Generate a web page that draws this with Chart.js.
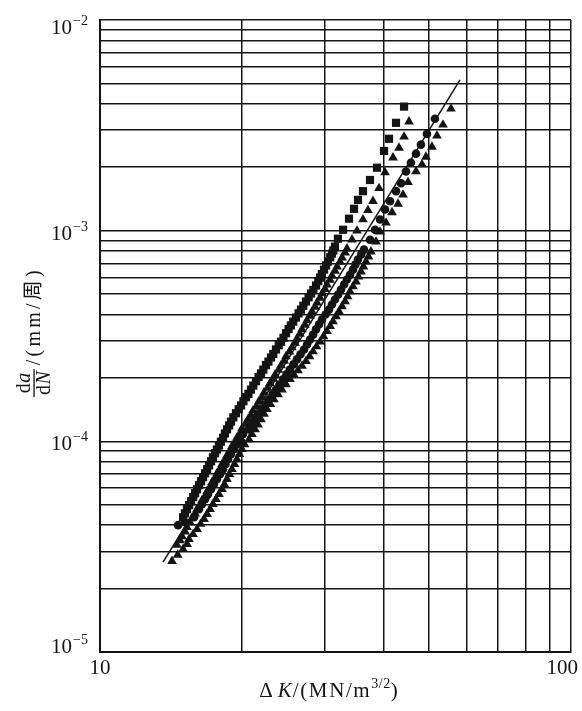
<!DOCTYPE html>
<html><head><meta charset="utf-8">
<script src="https://cdn.jsdelivr.net/npm/chart.js@4/dist/chart.umd.min.js"></script>
<style>html,body{margin:0;padding:0;background:#fff;}canvas{display:block;}</style>
</head><body>
<canvas id="c" width="582" height="711"></canvas>
<script>
// ---- axis structure ----
const xGrid = [10,20,30,40,50,60,70,80,90,100];
const yGrid = [1e-5,2e-5,3e-5,4e-5,5e-5,6e-5,7e-5,8e-5,9e-5,
               1e-4,2e-4,3e-4,4e-4,5e-4,6e-4,7e-4,8e-4,9e-4,
               1e-3,2e-3,3e-3,4e-3,5e-3,6e-3,7e-3,8e-3,9e-3,1e-2];
const xLabelVals = [10,100];
const xLabelText = ['10','100'];
const yLabelVals = [1e-5,1e-4,1e-3,1e-2];
const yLabelExp  = ['\u22125','\u22124','\u22123','\u22122'];

// ---- series: squares ----
const sqK = [15.01,15.30,15.61,15.92,16.23,16.55,16.88,17.21,17.55,17.89,18.25,18.61,18.97,19.44,19.93,20.42,20.92,21.44,21.97,22.51,23.07,23.64,24.23,24.83,25.43,26.06,26.71,27.37,28.06,28.75,29.32,29.90,30.48,31.08,31.54,32.00,32.81,33.78,34.62,35.30,36.17,37.43,38.73,40.09,41.08,42.51,44.21,
  31.28,30.82,30.20,29.58,29.07,28.38,27.73,27.02,26.40,25.72,25.14,24.52,23.96,23.33,22.78,22.22,21.71,21.16,20.66,20.16,19.70,19.19,18.80,18.42,18.06,17.71,17.37,17.04,16.71,16.39,16.07,15.77,15.46,15.15];
const sqR = [4.36e-5,4.76e-5,5.20e-5,5.67e-5,6.19e-5,6.76e-5,7.37e-5,8.04e-5,8.78e-5,9.55e-5,1.04e-4,1.14e-4,1.24e-4,1.36e-4,1.48e-4,1.62e-4,1.76e-4,1.93e-4,2.10e-4,2.30e-4,2.50e-4,2.73e-4,2.97e-4,3.26e-4,3.55e-4,3.87e-4,4.22e-4,4.61e-4,5.03e-4,5.49e-4,5.99e-4,6.53e-4,7.13e-4,7.78e-4,8.40e-4,9.16e-4,1.01e-3,1.14e-3,1.27e-3,1.40e-3,1.54e-3,1.74e-3,1.99e-3,2.39e-3,2.73e-3,3.25e-3,3.88e-3,
  8.05e-4,7.48e-4,6.84e-4,6.22e-4,5.76e-4,5.23e-4,4.83e-4,4.40e-4,4.05e-4,3.70e-4,3.41e-4,3.10e-4,2.86e-4,2.60e-4,2.39e-4,2.19e-4,2.02e-4,1.84e-4,1.68e-4,1.55e-4,1.42e-4,1.30e-4,1.19e-4,1.09e-4,9.96e-5,9.14e-5,8.40e-5,7.69e-5,7.05e-5,6.47e-5,5.92e-5,5.44e-5,4.98e-5,4.55e-5];

// ---- series: triangles (left group) ----
const triAK = [45.29,44.21,43.14,41.89,40.28,39.12,37.98,37.06,36.17,35.13,34.28,33.45,32.65,31.86,31.08,30.34,29.61,28.89,28.19,27.51,26.84,26.19,25.56,24.83,24.23,23.53,22.96,22.29,21.75,21.13,20.62,20.02,19.54,19.07,18.61,18.16,17.73,17.30,16.88,16.47,16.07,15.68,15.30,14.93,14.57,
  33.15,32.35,31.55,30.80,30.05,29.32,28.62,27.92,27.24,26.58,25.95,25.25,24.60,23.93,23.32,22.68,22.08,21.49,20.92,20.37,19.82,19.35,18.88,18.43,17.99,17.56,17.14,16.73,16.32,15.92,15.54,15.16,14.79];
const triAR = [3.29e-3,2.79e-3,2.47e-3,2.22e-3,1.89e-3,1.59e-3,1.38e-3,1.25e-3,1.13e-3,9.99e-4,9.06e-4,8.22e-4,7.45e-4,6.75e-4,6.12e-4,5.54e-4,5.03e-4,4.55e-4,4.13e-4,3.75e-4,3.40e-4,3.07e-4,2.79e-4,2.53e-4,2.29e-4,2.07e-4,1.89e-4,1.70e-4,1.55e-4,1.40e-4,1.27e-4,1.15e-4,1.04e-4,9.48e-5,8.59e-5,7.78e-5,7.06e-5,6.40e-5,5.79e-5,5.25e-5,4.76e-5,4.32e-5,3.91e-5,3.54e-5,3.22e-5,
  7.85e-4,7.10e-4,6.43e-4,5.83e-4,5.28e-4,4.79e-4,4.34e-4,3.94e-4,3.57e-4,3.23e-4,2.93e-4,2.66e-4,2.41e-4,2.18e-4,1.98e-4,1.79e-4,1.62e-4,1.47e-4,1.33e-4,1.21e-4,1.09e-4,9.93e-5,9.02e-5,8.18e-5,7.41e-5,6.72e-5,6.09e-5,5.51e-5,5.00e-5,4.54e-5,4.11e-5,3.72e-5,3.38e-5];

// ---- series: circles ----
const circK = [51.42,49.45,48.02,46.87,45.73,44.64,43.56,42.51,41.28,40.28,39.31,38.36,37.43,36.35,35.29,34.45,33.45,32.49,31.54,30.63,29.61,28.75,27.92,27.11,26.19,25.31,24.47,23.64,22.85,22.07,21.34,20.72,19.82,19.25,18.69,18.24,17.71,17.21,16.71,16.22,15.84,15.16,14.65,
  35.85,34.85,33.95,32.98,32.02,31.08,30.12,29.18,28.34,27.52,26.65,25.75,24.89,24.05,23.25,22.46,21.70,21.03,20.11,19.53,18.96,18.46,17.98,17.45,16.95,16.46];
const circR = [3.40e-3,2.88e-3,2.56e-3,2.32e-3,2.10e-3,1.91e-3,1.68e-3,1.54e-3,1.38e-3,1.26e-3,1.13e-3,1.01e-3,9.06e-4,8.13e-4,7.29e-4,6.53e-4,5.86e-4,5.25e-4,4.71e-4,4.22e-4,3.79e-4,3.40e-4,3.04e-4,2.73e-4,2.45e-4,2.19e-4,1.97e-4,1.76e-4,1.58e-4,1.42e-4,1.27e-4,1.14e-4,1.02e-4,9.17e-5,8.22e-5,7.37e-5,6.61e-5,5.92e-5,5.31e-5,4.76e-5,4.36e-5,4.13e-5,4.00e-5,
  7.70e-4,6.90e-4,6.18e-4,5.55e-4,4.97e-4,4.46e-4,4.00e-4,3.59e-4,3.21e-4,2.88e-4,2.59e-4,2.32e-4,2.08e-4,1.86e-4,1.67e-4,1.50e-4,1.34e-4,1.20e-4,1.08e-4,9.67e-5,8.68e-5,7.78e-5,6.98e-5,6.25e-5,5.61e-5,5.03e-5];

// ---- series: triangles (right group) ----
const triBK = [55.62,53.49,51.93,50.67,49.21,48.26,46.87,45.08,43.99,42.93,41.68,40.48,39.31,38.55,37.61,36.70,35.81,34.96,33.95,33.13,32.17,31.24,30.34,29.32,28.33,27.37,26.32,25.31,24.35,23.41,22.62,21.97,21.34,20.72,20.02,19.53,19.06,18.60,18.16,17.63,17.13,16.63,16.07,15.45,15.01,14.22,
  37.15,36.25,35.38,34.45,33.55,32.65,31.70,30.80,29.82,28.82,27.85,26.85,25.80,24.83,23.88,23.00,22.30,21.65,21.02,20.27,19.77,19.30,18.83,18.37,17.89,17.37,16.88,16.35,15.76,15.31,14.62];
const triBR = [3.79e-3,3.18e-3,2.82e-3,2.50e-3,2.24e-3,2.06e-3,1.91e-3,1.70e-3,1.48e-3,1.34e-3,1.22e-3,1.09e-3,9.88e-4,8.86e-4,7.95e-4,7.13e-4,6.39e-4,5.73e-4,5.14e-4,4.61e-4,4.13e-4,3.71e-4,3.33e-4,2.97e-4,2.67e-4,2.40e-4,2.17e-4,1.97e-4,1.76e-4,1.58e-4,1.42e-4,1.27e-4,1.14e-4,1.02e-4,9.17e-5,8.22e-5,7.37e-5,6.61e-5,5.92e-5,5.31e-5,4.76e-5,4.27e-5,3.83e-5,3.43e-5,3.08e-5,2.70e-5,
  7.53e-4,6.75e-4,6.05e-4,5.43e-4,4.87e-4,4.37e-4,3.92e-4,3.52e-4,3.15e-4,2.82e-4,2.53e-4,2.28e-4,2.07e-4,1.86e-4,1.67e-4,1.50e-4,1.35e-4,1.20e-4,1.08e-4,9.67e-5,8.68e-5,7.78e-5,6.98e-5,6.25e-5,5.61e-5,5.03e-5,4.51e-5,4.05e-5,3.62e-5,3.25e-5,2.89e-5];

// ---- fitted line ----
const fitK = [13.61,58.13];
const fitR = [2.67e-5,5.20e-3];

const INK = '#141414';
const pts = (K,R) => K.map((k,i)=>({x:k,y:R[i]}));
const SERIF = '"Liberation Serif","DejaVu Serif","Noto Sans CJK SC",serif';

function drawRun(ctx, parts, x, y){
  for (const p of parts){
    ctx.font = p.font;
    for (const ch of p.t){
      ctx.fillText(ch, x, y + (p.dy||0));
      x += ctx.measureText(ch).width + (p.sp||0);
    }
  }
  return x;
}
function runWidth(ctx, parts){
  let w = 0;
  for (const p of parts){ ctx.font = p.font; for (const ch of p.t) w += ctx.measureText(ch).width + (p.sp||0); }
  return w;
}

const labelPlugin = {
  id: 'labels',
  afterDraw(chart){
    const {ctx} = chart;
    const xs = chart.scales.x, ys = chart.scales.y;
    ctx.save();
    ctx.fillStyle = INK;
    ctx.textBaseline = 'alphabetic';
    const n = yLabelVals.length;
    yLabelVals.forEach((v,i)=>{
      const py = ys.getPixelForValue(v);
      const base = py + (i===0 ? 1 : (i===n-1 ? 14 : 9));
      ctx.textAlign = 'right';
      ctx.font = '14px ' + SERIF;
      const ew = ctx.measureText(yLabelExp[i]).width;
      ctx.fillText(yLabelExp[i], 88, base - 9);
      ctx.font = '21px ' + SERIF;
      ctx.fillText('10', 88 - ew - 1, base);
    });
    xLabelVals.forEach((v,i)=>{
      const px = xs.getPixelForValue(v);
      ctx.font = '21px ' + SERIF;
      if (i === xLabelVals.length-1){ ctx.textAlign='right'; ctx.fillText(xLabelText[i], px+7, 674); }
      else { ctx.textAlign='center'; ctx.fillText(xLabelText[i], px, 674); }
    });
    ctx.textAlign = 'left';
    const R21 = '21px ' + SERIF, I21 = 'italic 21px ' + SERIF, S14 = '14px ' + SERIF;
    const xt = [
      {t:'\u0394', font:R21, sp:5},
      {t:'K', font:I21, sp:1},
      {t:'/(MN/m', font:R21, sp:1.6},
      {t:'3/2', font:S14, dy:-9, sp:0.5},
      {t:')', font:R21, sp:0}
    ];
    const tw = runWidth(ctx, xt);
    drawRun(ctx, xt, (xs.left+xs.right)/2 - 7 - tw/2, 697);

    ctx.save();
    ctx.translate(34, 397);
    ctx.rotate(-Math.PI/2);
    const R20 = '20px ' + SERIF, I20 = 'italic 20px ' + SERIF;
    const num = [{t:'d',font:R20,sp:0.5},{t:'a',font:I20}];
    const den = [{t:'d',font:R20,sp:0.5},{t:'N',font:I20}];
    const wn = runWidth(ctx,num), wd = runWidth(ctx,den);
    const fw = Math.max(wn,wd) + 4;
    drawRun(ctx, num, (fw-wn)/2, -4);
    drawRun(ctx, den, (fw-wd)/2, 15.5);
    ctx.fillRect(0, -0.6, fw, 1.3);
    drawRun(ctx, [{t:'/(mm/\u5468)', font:R20, sp:3.2}], fw + 4, 6);
    ctx.restore();

    ctx.restore();
  }
};

new Chart(document.getElementById('c'), {
  type: 'scatter',
  data: {
    datasets: [
      {label:'squares', data: pts(sqK,sqR), pointStyle:'rect', pointRadius:5.8, backgroundColor:INK, borderWidth:0},
      {label:'triangles A', data: pts(triAK,triAR), pointStyle:'triangle', pointRadius:5.6, backgroundColor:INK, borderWidth:0},
      {label:'circles', data: pts(circK,circR), pointStyle:'circle', pointRadius:4.3, backgroundColor:INK, borderWidth:0},
      {label:'triangles B', data: pts(triBK,triBR), pointStyle:'triangle', pointRadius:5.6, backgroundColor:INK, borderWidth:0},
      {label:'fit', type:'line', data: pts(fitK,fitR), showLine:true, borderColor:INK, borderWidth:1.5, pointRadius:0, fill:false}
    ]
  },
  options: {
    responsive: false,
    animation: false,
    devicePixelRatio: 1,
    layout: {padding: {top:20, right:11, left:0, bottom:0}},
    plugins: {legend:{display:false}, tooltip:{enabled:false}},
    events: [],
    scales: {
      x: {
        type:'logarithmic', position:'bottom', min:10, max:100,
        grid:{color:INK, lineWidth:1.5, drawTicks:false},
        border:{display:true, color:INK, width:2},
        ticks:{display:false},
        afterBuildTicks: s => { s.ticks = xGrid.map(v=>({value:v})); },
        afterFit: s => { s.height = 59; s.paddingLeft = 0; s.paddingRight = 0; }
      },
      y: {
        type:'logarithmic', position:'left', min:1e-5, max:1e-2,
        grid:{color:INK, lineWidth:1.5, drawTicks:false},
        border:{display:true, color:INK, width:2},
        ticks:{display:false},
        afterBuildTicks: s => { s.ticks = yGrid.map(v=>({value:v})); },
        afterFit: s => { s.width = 100; s.paddingTop = 0; s.paddingBottom = 0; }
      }
    }
  },
  plugins: [labelPlugin]
});
</script>
</body></html>
